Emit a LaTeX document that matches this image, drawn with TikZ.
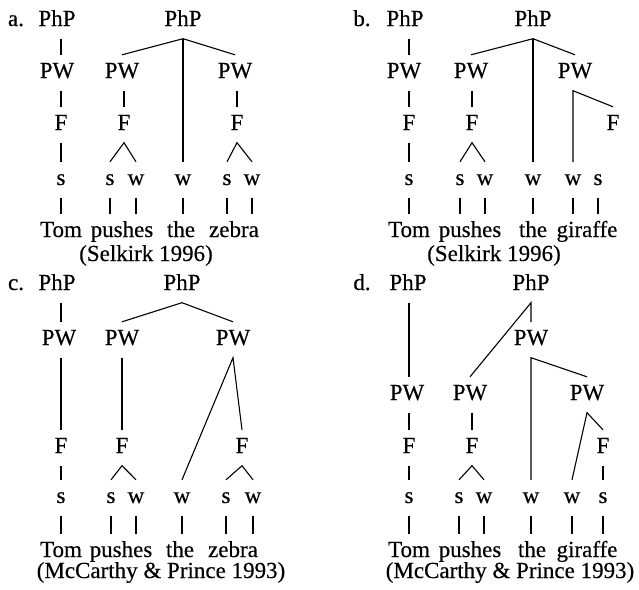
\documentclass[tikz,border=0pt]{standalone}
\usepackage{fontspec}
\setmainfont{Liberation Serif}[FakeBold=0.35]
\begin{document}
\begin{tikzpicture}[x=1pt,y=-1pt,
  lab/.style={anchor=base, inner xsep=1pt, inner ysep=7.5pt,
              text height=15.5pt, text depth=5pt,
              font=\fontsize{23}{27}\selectfont},
  cite/.style={anchor=base, inner sep=0pt, font=\fontsize{23}{27}\selectfont},
  branch/.style={line width=1.1pt}]
\useasboundingbox (0,0) rectangle (639,589);

% ---------------- a. ----------------
\node[lab] (aL)  at (16,26)  {a.};
\node[lab] (aP1) at (57,26)  {PhP};
\node[lab] (aW1) at (57,78)  {PW};
\node[lab] (aF1) at (61,130) {F};
\node[lab] (aS1) at (61,185) {s};
\node[lab] (aP2) at (183,26) {PhP};
\node[lab] (aW2) at (122,78) {PW};
\node[lab] (aF2) at (124,130) {F};
\node[lab] (aS2) at (110,185) {s};
\node[lab] (aV2) at (136,185) {w};
\node[lab] (aV3) at (183,185) {w};
\node[lab] (aW3) at (235,78) {PW};
\node[lab] (aF3) at (237,130) {F};
\node[lab] (aS4) at (227,185) {s};
\node[lab] (aV4) at (252,185) {w};
\node[lab] (aTom)  at (61,237)  {Tom};
\node[lab] (aPush) at (122,237) {pushes};
\node[lab] (aThe)  at (181,237) {the};
\node[lab] (aObj)  at (234,237) {zebra};
\node[cite] (aC) at (146,261) {(Selkirk 1996)};

\begin{scope}[branch]
\draw (aP1.south -| aF1.south) -- (aW1.north -| aF1.south);
\draw (aW1.south -| aF1.south) -- (aF1.north);
\draw (aF1.south) -- (aS1.north);
\draw (aW2.north) -- (aP2.south) -- (aW3.north);
\draw (aP2.south) -- (aV3.north);
\draw (aW2.south -| aF2.north) -- (aF2.north);
\draw (aS2.north) -- (aF2.south) -- (aV2.north);
\draw (aW3.south -| aF3.north) -- (aF3.north);
\draw (aS4.north) -- (aF3.south) -- (aV4.north);
\draw (aS1.south) -- (aS1.south |- aTom.north);
\draw (aS2.south) -- (aS2.south |- aPush.north);
\draw (aV2.south) -- (aV2.south |- aPush.north);
\draw (aV3.south) -- (aV3.south |- aThe.north);
\draw (aS4.south) -- (aS4.south |- aObj.north);
\draw (aV4.south) -- (aV4.south |- aObj.north);
\end{scope}

% ---------------- b. ----------------
\node[lab] (bL)  at (362,26)  {b.};
\node[lab] (bP1) at (405,26)  {PhP};
\node[lab] (bW1) at (404,78)  {PW};
\node[lab] (bF1) at (409,130) {F};
\node[lab] (bS1) at (409,185) {s};
\node[lab] (bP2) at (533,26)  {PhP};
\node[lab] (bW2) at (471,78)  {PW};
\node[lab] (bF2) at (472,130) {F};
\node[lab] (bS2) at (460,185) {s};
\node[lab] (bV2) at (485,185) {w};
\node[lab] (bV3) at (533,185) {w};
\node[lab] (bW3) at (575,78)  {PW};
\node[lab] (bF3) at (613,130) {F};
\node[lab] (bV4) at (573,185) {w};
\node[lab] (bS4) at (598,185) {s};
\node[lab] (bTom)  at (409,237) {Tom};
\node[lab] (bPush) at (470,237) {pushes};
\node[lab] (bThe)  at (533,237) {the};
\node[lab] (bObj)  at (587,237) {giraffe};
\node[cite] (bC) at (494,261) {(Selkirk 1996)};

\begin{scope}[branch]
\draw (bP1.south -| bF1.south) -- (bW1.north -| bF1.south);
\draw (bW1.south -| bF1.south) -- (bF1.north);
\draw (bF1.south) -- (bS1.north);
\draw (bW2.north) -- (bP2.south) -- (bW3.north);
\draw (bP2.south) -- (bV3.north);
\draw (bW2.south -| bF2.north) -- (bF2.north);
\draw (bS2.north) -- (bF2.south) -- (bV2.north);
\draw (bF3.north) -- (bW3.south -| bV4.north) -- (bV4.north);
\draw (bS1.south) -- (bS1.south |- bTom.north);
\draw (bS2.south) -- (bS2.south |- bPush.north);
\draw (bV2.south) -- (bV2.south |- bPush.north);
\draw (bV3.south) -- (bV3.south |- bThe.north);
\draw (bV4.south) -- (bV4.south |- bObj.north);
\draw (bS4.south) -- (bS4.south |- bObj.north);
\end{scope}

% ---------------- c. ----------------
\node[lab] (cL)  at (16,290)  {c.};
\node[lab] (cP1) at (57,290)  {PhP};
\node[lab] (cW1) at (59,345)  {PW};
\node[lab] (cF1) at (61,453)  {F};
\node[lab] (cS1) at (61,503)  {s};
\node[lab] (cP2) at (182,290) {PhP};
\node[lab] (cW2) at (122,345) {PW};
\node[lab] (cF2) at (122,453) {F};
\node[lab] (cS2) at (111,503) {s};
\node[lab] (cV2) at (136,503) {w};
\node[lab] (cV3) at (182,503) {w};
\node[lab] (cW3) at (233,345) {PW};
\node[lab] (cF3) at (242,453) {F};
\node[lab] (cS4) at (226,503) {s};
\node[lab] (cV4) at (253,503) {w};
\node[lab] (cTom)  at (61,557)  {Tom};
\node[lab] (cPush) at (121,557) {pushes};
\node[lab] (cThe)  at (180,557) {the};
\node[lab] (cObj)  at (233,557) {zebra};
\node[cite] (cC) at (161,578) {(McCarthy \& Prince 1993)};

\begin{scope}[branch]
\draw (cP1.south -| cF1.south) -- (cW1.north -| cF1.south);
\draw (cW1.south -| cF1.south) -- (cF1.north);
\draw (cF1.south) -- (cS1.north);
\draw (cW2.north) -- (cP2.south) -- (cW3.north);
\draw (cW2.south) -- (cF2.north);
\draw (cS2.north) -- (cF2.south) -- (cV2.north);
\draw (cV3.north) -- (cW3.south) -- (cF3.north);
\draw (cS4.north) -- (cF3.south) -- (cV4.north);
\draw (cS1.south) -- (cS1.south |- cTom.north);
\draw (cS2.south) -- (cS2.south |- cPush.north);
\draw (cV2.south) -- (cV2.south |- cPush.north);
\draw (cV3.south) -- (cV3.south |- cThe.north);
\draw (cS4.south) -- (cS4.south |- cObj.north);
\draw (cV4.south) -- (cV4.south |- cObj.north);
\end{scope}

% ---------------- d. ----------------
\node[lab] (dL)  at (362,290) {d.};
\node[lab] (dP1) at (408,290) {PhP};
\node[lab] (dW1) at (407,400) {PW};
\node[lab] (dF1) at (409,453) {F};
\node[lab] (dS1) at (409,503) {s};
\node[lab] (dP2) at (531,290) {PhP};
\node[lab] (dW0) at (531,345) {PW};
\node[lab] (dW2) at (470,400) {PW};
\node[lab] (dF2) at (472,453) {F};
\node[lab] (dS2) at (459,503) {s};
\node[lab] (dV2) at (484,503) {w};
\node[lab] (dV3) at (531,503) {w};
\node[lab] (dW3) at (587,400) {PW};
\node[lab] (dF3) at (603,453) {F};
\node[lab] (dV4) at (572,503) {w};
\node[lab] (dS4) at (603,503) {s};
\node[lab] (dTom)  at (409,557) {Tom};
\node[lab] (dPush) at (470,557) {pushes};
\node[lab] (dThe)  at (532,557) {the};
\node[lab] (dObj)  at (587,557) {giraffe};
\node[cite] (dC) at (510,578) {(McCarthy \& Prince 1993)};

\begin{scope}[branch]
\draw (dP1.south -| dF1.south) -- (dW1.north -| dF1.south);
\draw (dW1.south -| dF1.south) -- (dF1.north);
\draw (dF1.south) -- (dS1.north);
\draw (dW2.north) -- (dP2.south) -- (dW0.north);
\draw (dV3.north) -- (dW0.south) -- (dW3.north);
\draw (dW2.south -| dF2.north) -- (dF2.north);
\draw (dS2.north) -- (dF2.south) -- (dV2.north);
\draw (dV4.north) -- (dW3.south) -- (dF3.north);
\draw (dF3.south) -- (dS4.north);
\draw (dS1.south) -- (dS1.south |- dTom.north);
\draw (dS2.south) -- (dS2.south |- dPush.north);
\draw (dV2.south) -- (dV2.south |- dPush.north);
\draw (dV3.south) -- (dV3.south |- dThe.north);
\draw (dV4.south) -- (dV4.south |- dObj.north);
\draw (dS4.south) -- (dS4.south |- dObj.north);
\end{scope}
\end{tikzpicture}
\end{document}
